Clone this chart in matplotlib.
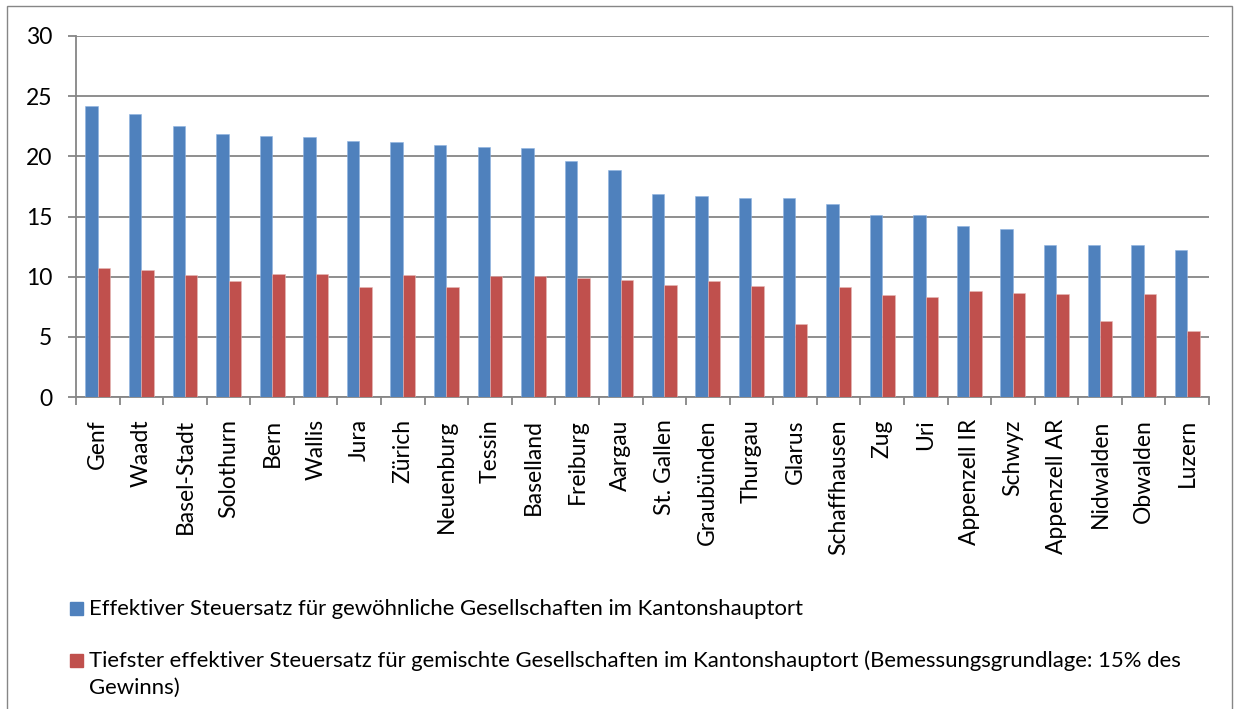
import numpy as np
import matplotlib
matplotlib.use("Agg")
import matplotlib.pyplot as plt
from matplotlib.patches import Rectangle

plt.rcParams['font.family'] = ['Lato', 'DejaVu Sans']

kantone = ["Genf", "Waadt", "Basel-Stadt", "Solothurn", "Bern", "Wallis", "Jura",
           "Zürich", "Neuenburg", "Tessin", "Baselland", "Freiburg", "Aargau",
           "St. Gallen", "Graubünden", "Thurgau", "Glarus", "Schaffhausen", "Zug",
           "Uri", "Appenzell IR", "Schwyz", "Appenzell AR", "Nidwalden", "Obwalden",
           "Luzern"]

# effektiver Steuersatz, gewoehnliche Gesellschaften (%)
gewoehnlich = [24.2, 23.5, 22.5, 21.85, 21.65, 21.6, 21.3, 21.2, 20.95, 20.75,
               20.7, 19.65, 18.9, 16.9, 16.7, 16.55, 16.5, 16.0, 15.1, 15.1,
               14.2, 13.95, 12.65, 12.65, 12.65, 12.2]
# tiefster effektiver Steuersatz, gemischte Gesellschaften (%)
gemischt = [10.75, 10.55, 10.15, 9.65, 10.25, 10.2, 9.15, 10.15, 9.1, 10.05,
            10.05, 9.85, 9.7, 9.3, 9.6, 9.2, 6.1, 9.15, 8.5, 8.3,
            8.85, 8.65, 8.6, 6.35, 8.6, 5.45]

serie_1 = ["Effektiver Steuersatz für gewöhnliche Gesellschaften im Kantonshauptort"]
serie_2 = ["Tiefster effektiver Steuersatz für gemischte Gesellschaften im "
           "Kantonshauptort (Bemessungsgrundlage: 15% des",
           "Gewinns)"]

blau = "#4F81BD"
rot = "#C0504D"
grau = "#868686"

W, H = 1234, 709
fig = plt.figure(figsize=(W / 100, H / 100), dpi=100)

# chart frame
fig.patches.append(Rectangle((7 / W, -0.02), (1232 - 7) / W, 1 - 6 / H + 0.02,
                             transform=fig.transFigure, fill=False,
                             edgecolor=grau, linewidth=1.0))

ax = fig.add_axes([76 / W, 1 - 397 / H, (1209 - 76) / W, (397 - 36) / H])

x = np.arange(len(gewoehnlich))
bw = 0.285
ax.bar(x - bw / 2, gewoehnlich, bw, color=blau, edgecolor="#8DB3E2",
       linewidth=0.4, zorder=3)
ax.bar(x + bw / 2, gemischt, bw, color=rot, edgecolor="#E6B9B8",
       linewidth=0.4, zorder=3)

ax.set_xlim(-0.5, len(x) - 0.5)
ax.set_ylim(0, 30)
ax.set_yticks(range(0, 31, 5))
ax.yaxis.grid(True, color=grau, linewidth=1.3, zorder=0)
ax.set_axisbelow(True)

for s in ["top", "right"]:
    ax.spines[s].set_visible(False)
for s in ["left", "bottom"]:
    ax.spines[s].set_color(grau)
    ax.spines[s].set_linewidth(1.3)

ax.tick_params(axis="y", length=6, width=1.3, color=grau, labelsize=16.5, pad=11)
ax.set_xticks(x)
ax.set_xticklabels(kantone, rotation=90, fontsize=16.5, va="top", ha="center")
ax.tick_params(axis="x", length=0, pad=16)
ax.set_xticks(np.arange(-0.5, len(x), 1), minor=True)
ax.tick_params(axis="x", which="minor", length=6, width=1.3, color=grau)

# legend below the chart
for base, col, lines in [(615, blau, serie_1), (667, rot, serie_2)]:
    fig.patches.append(Rectangle((69.5 / W, 1 - base / H), 13 / W, 13 / H,
                                 transform=fig.transFigure, color=col))
    for i, line in enumerate(lines):
        fig.text(89 / W, 1 - (base + 26.5 * i) / H, line, fontsize=15.9,
                 va="baseline", ha="left")

fig.savefig("out.png", dpi=100)
